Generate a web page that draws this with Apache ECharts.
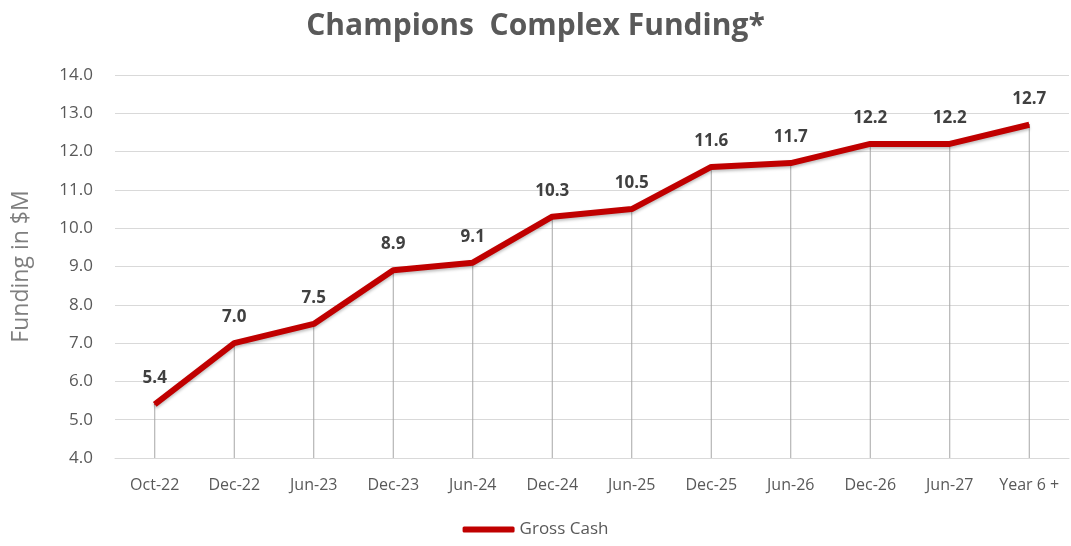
<!DOCTYPE html>
<html>
<head>
<meta charset="utf-8">
<title>Champions Complex Funding</title>
<script src="https://cdn.jsdelivr.net/npm/echarts@6/dist/echarts.min.js"></script>
<style>
  html, body { margin: 0; padding: 0; background: #fff; }
  #main { width: 1071px; height: 546px; }
</style>
</head>
<body>
<div id="main"></div>
<script>
// categories on the x axis
var periods = ['Oct-22', 'Dec-22', 'Jun-23', 'Dec-23', 'Jun-24', 'Dec-24',
  'Jun-25', 'Dec-25', 'Jun-26', 'Dec-26', 'Jun-27', 'Year 6 +'];
// gross cash, $M
var grossCash = [5.4, 7.0, 7.5, 8.9, 9.1, 10.3, 10.5, 11.6, 11.7, 12.2, 12.2, 12.7];

var chart = echarts.init(document.getElementById('main'));
var font = '"Open Sans", "Liberation Sans", sans-serif';

chart.setOption({
  animation: false,
  title: {
    text: 'Champions  Complex Funding*',
    left: 'center',
    top: 6,
    textStyle: { fontFamily: font, fontSize: 30, fontWeight: 'bold', color: '#595959' }
  },
  legend: {
    data: [{ name: 'Gross Cash', icon: 'roundRect' }],
    bottom: 3,
    left: 'center',
    itemWidth: 52,
    itemHeight: 6,
    itemGap: 4,
    textStyle: { fontFamily: font, fontSize: 17, color: '#595959' }
  },
  grid: { left: 115, right: 2, top: 75, bottom: 88 },
  xAxis: {
    type: 'category',
    data: periods,
    boundaryGap: true,
    axisLine: { show: true, lineStyle: { color: '#d9d9d9' } },
    axisTick: { show: false },
    axisLabel: { fontFamily: font, fontSize: 16, color: '#595959', margin: 19, interval: 0 }
  },
  yAxis: {
    type: 'value',
    min: 4,
    max: 14,
    interval: 1,
    name: 'Funding in $M',
    nameLocation: 'middle',
    nameGap: 82,
    nameTextStyle: { fontFamily: font, fontSize: 23, color: '#7f7f7f' },
    axisLine: { show: false },
    axisTick: { show: false },
    axisLabel: {
      fontFamily: font, fontSize: 17, color: '#595959', margin: 22,
      formatter: function (v) { return v.toFixed(1); }
    },
    splitLine: { lineStyle: { color: '#d9d9d9', width: 1 } }
  },
  series: [
    {
      // drop lines from each point to the axis
      name: 'drop',
      type: 'bar',
      data: grossCash,
      barWidth: 1,
      barGap: '-100%',
      silent: true,
      itemStyle: { color: '#a6a6a6' },
      z: 1
    },
    {
      name: 'Gross Cash',
      type: 'line',
      data: grossCash,
      symbol: 'circle',
      symbolSize: 1,
      lineStyle: {
        color: '#c00000', width: 6,
        shadowColor: 'rgba(0,0,0,0.25)', shadowBlur: 3, shadowOffsetY: 2
      },
      itemStyle: { color: '#c00000' },
      label: {
        show: true,
        position: 'top',
        distance: 17,
        fontFamily: font,
        fontSize: 17,
        fontWeight: 'bold',
        color: '#404040',
        formatter: function (p) { return p.value.toFixed(1); }
      },
      z: 3
    }
  ]
});
</script>
</body>
</html>
